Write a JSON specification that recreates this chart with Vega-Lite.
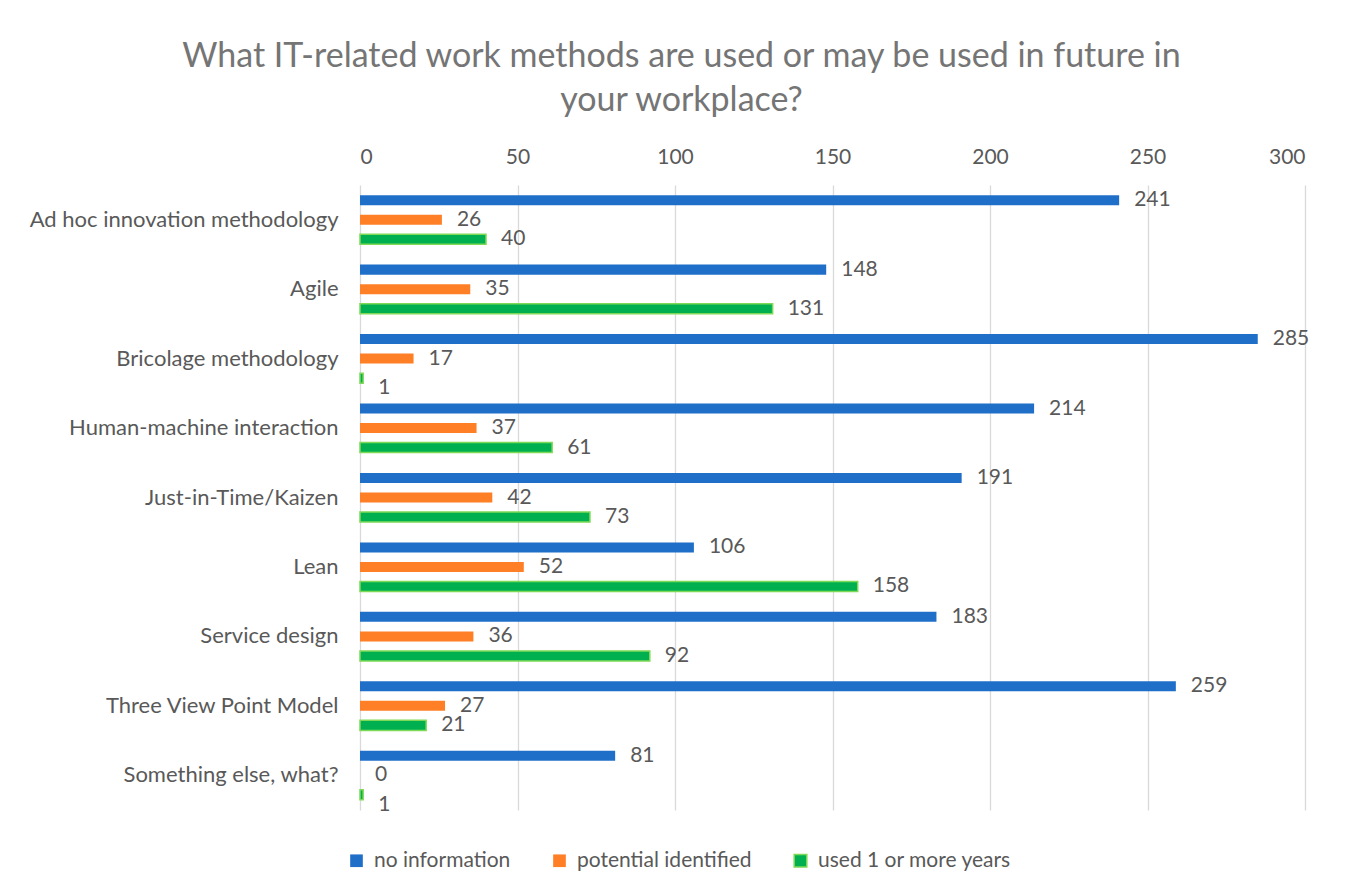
{
  "$schema": "https://vega.github.io/schema/vega-lite/v6.json",
  "width": 945,
  "height": 625,
  "autosize": {"type": "none"},
  "padding": {"left": 360, "top": 185, "right": 49, "bottom": 85},
  "background": "white",
  "title": {
    "text": ["What IT-related work methods are used or may be used in future in", "your workplace?"],
    "font": "Lato",
    "fontSize": 34,
    "fontWeight": "normal",
    "color": "#757575",
    "lineHeight": 44,
    "anchor": "middle",
    "frame": "group",
    "dx": -151,
    "offset": 28
  },
  "config": {
    "view": {"stroke": null},
    "font": "Lato",
    "legend": {"labelFontSize": 21, "labelLimit": 400, "labelColor": "#595959"}
  },
  "data": {
    "values": [
      {"category": "Ad hoc innovation methodology", "series": "no information", "value": 241},
      {"category": "Ad hoc innovation methodology", "series": "potential identified", "value": 26},
      {"category": "Ad hoc innovation methodology", "series": "used 1 or more years", "value": 40},
      {"category": "Agile", "series": "no information", "value": 148},
      {"category": "Agile", "series": "potential identified", "value": 35},
      {"category": "Agile", "series": "used 1 or more years", "value": 131},
      {"category": "Bricolage methodology", "series": "no information", "value": 285},
      {"category": "Bricolage methodology", "series": "potential identified", "value": 17},
      {"category": "Bricolage methodology", "series": "used 1 or more years", "value": 1},
      {"category": "Human-machine interaction", "series": "no information", "value": 214},
      {"category": "Human-machine interaction", "series": "potential identified", "value": 37},
      {"category": "Human-machine interaction", "series": "used 1 or more years", "value": 61},
      {"category": "Just-in-Time/Kaizen", "series": "no information", "value": 191},
      {"category": "Just-in-Time/Kaizen", "series": "potential identified", "value": 42},
      {"category": "Just-in-Time/Kaizen", "series": "used 1 or more years", "value": 73},
      {"category": "Lean", "series": "no information", "value": 106},
      {"category": "Lean", "series": "potential identified", "value": 52},
      {"category": "Lean", "series": "used 1 or more years", "value": 158},
      {"category": "Service design", "series": "no information", "value": 183},
      {"category": "Service design", "series": "potential identified", "value": 36},
      {"category": "Service design", "series": "used 1 or more years", "value": 92},
      {"category": "Three View Point Model", "series": "no information", "value": 259},
      {"category": "Three View Point Model", "series": "potential identified", "value": 27},
      {"category": "Three View Point Model", "series": "used 1 or more years", "value": 21},
      {"category": "Something else, what?", "series": "no information", "value": 81},
      {"category": "Something else, what?", "series": "potential identified", "value": 0},
      {"category": "Something else, what?", "series": "used 1 or more years", "value": 1}
    ]
  },
  "encoding": {
    "y": {
      "field": "category",
      "type": "nominal",
      "sort": null,
      "scale": {"paddingInner": 0.16, "paddingOuter": 0.08},
      "axis": {
        "title": null,
        "domain": false,
        "ticks": false,
        "labelFontSize": 22,
        "labelColor": "#595959",
        "labelPadding": 22,
        "labelLimit": 400
      }
    },
    "yOffset": {
      "field": "series",
      "type": "nominal",
      "sort": ["no information", "potential identified", "used 1 or more years"],
      "scale": {"paddingInner": 0.487, "paddingOuter": 0.236}
    },
    "x": {
      "field": "value",
      "type": "quantitative",
      "scale": {"domain": [0, 300], "nice": false},
      "axis": {
        "orient": "top",
        "title": null,
        "values": [0, 50, 100, 150, 200, 250, 300],
        "domain": false,
        "ticks": false,
        "labelFontSize": 21,
        "labelColor": "#595959",
        "labelPadding": 18,
        "gridColor": "#D9D9D9",
        "gridWidth": 1.3
      }
    }
  },
  "layer": [
    {
      "mark": {"type": "bar", "strokeWidth": 1.5},
      "encoding": {
        "color": {
          "field": "series",
          "type": "nominal",
          "scale": {
            "domain": ["no information", "potential identified", "used 1 or more years"],
            "range": ["#1F6FC8", "#FF7F27", "#00B050"]
          },
          "legend": {
            "title": null,
            "orient": "none",
            "direction": "horizontal",
            "legendX": -14,
            "legendY": 665,
            "symbolType": "square",
            "symbolSize": 160,
            "symbolStrokeWidth": 1.5,
            "labelFontSize": 21,
            "labelLimit": 400,
            "labelColor": "#595959",
            "labelOffset": 7,
            "columnPadding": 38
          }
        },
        "stroke": {
          "field": "series",
          "type": "nominal",
          "scale": {
            "domain": ["no information", "potential identified", "used 1 or more years"],
            "range": ["transparent", "transparent", "#7FD957"]
          },
          "legend": null
        }
      }
    },
    {
      "mark": {"type": "text", "align": "left", "baseline": "middle", "dx": 15, "dy": {"expr": "datum.value == 1 ? 10 : 0"}, "fontSize": 21, "color": "#595959"},
      "encoding": {
        "text": {"field": "value", "type": "quantitative"}
      }
    }
  ]
}
